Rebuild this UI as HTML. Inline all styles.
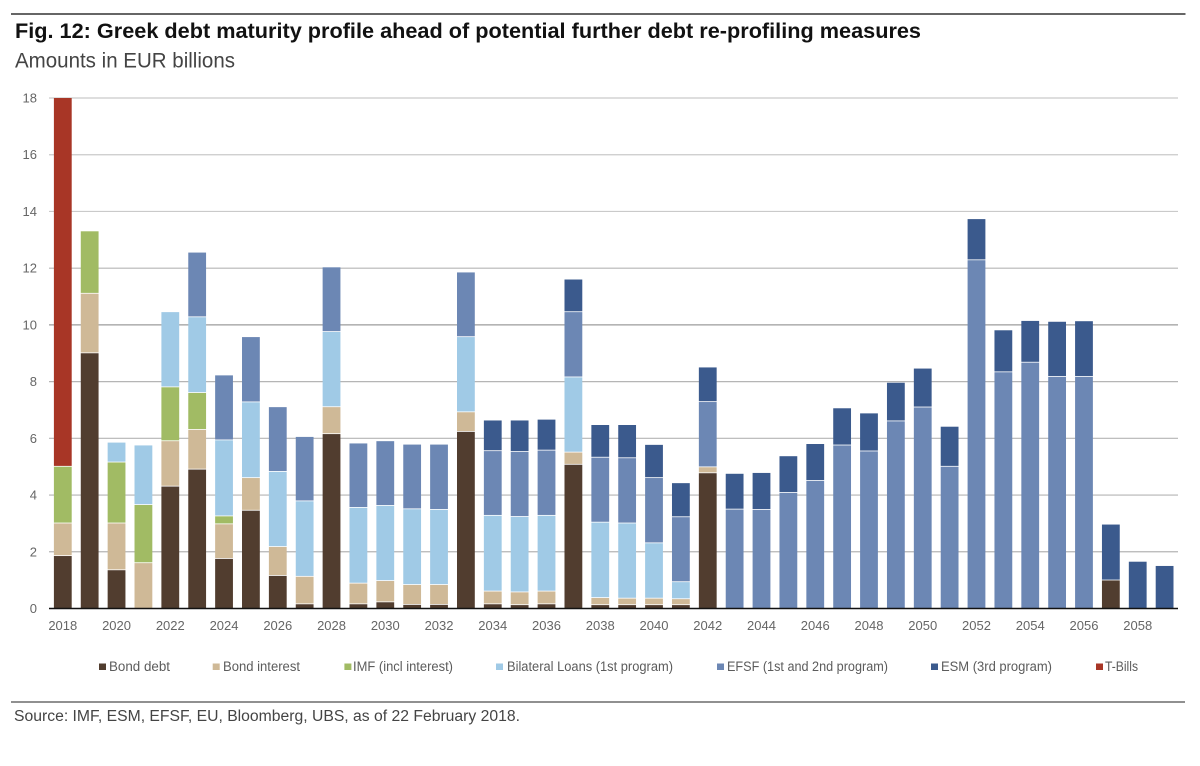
<!DOCTYPE html>
<html lang="en">
<head>
<meta charset="utf-8">
<title>Greek debt maturity profile</title>
<style>
html,body{margin:0;padding:0;background:#fff;width:1200px;height:766px;overflow:hidden}
svg{display:block;font-family:"Liberation Sans",sans-serif}
</style>
</head>
<body>
<svg id="chart" xmlns="http://www.w3.org/2000/svg" width="1200" height="766" viewBox="0 0 1200 766">
  <rect x="11" y="13" width="1174.5" height="2" fill="#666"/>
  <text x="15" y="38" font-size="21.5" font-weight="700" fill="#111" textLength="906" lengthAdjust="spacingAndGlyphs">Fig. 12: Greek debt maturity profile ahead of potential further debt re-profiling measures</text>
  <text x="15" y="67.5" font-size="21" fill="#444" textLength="220" lengthAdjust="spacingAndGlyphs">Amounts in EUR billions</text>
  <g id="grid"></g>
  <g id="bars"></g>
  <line x1="49" x2="1178" y1="608.5" y2="608.5" stroke="#111" stroke-width="1.5"/>
  <g id="yticks"></g>
  <g id="xticks"></g>
  <g font-size="13.5" fill="#5c5c5c">
    <g><rect x="99" y="663.5" width="7" height="6.5" fill="#513d2f"/><text x="109" y="671" textLength="61" lengthAdjust="spacingAndGlyphs">Bond debt</text></g>
    <g><rect x="212.7" y="663.5" width="7" height="6.5" fill="#cfb997"/><text x="223" y="671" textLength="77" lengthAdjust="spacingAndGlyphs">Bond interest</text></g>
    <g><rect x="344.4" y="663.5" width="7" height="6.5" fill="#a1bb64"/><text x="353" y="671" textLength="100" lengthAdjust="spacingAndGlyphs">IMF (incl interest)</text></g>
    <g><rect x="496" y="663.5" width="7" height="6.5" fill="#a0cae6"/><text x="507" y="671" textLength="166" lengthAdjust="spacingAndGlyphs">Bilateral Loans (1st program)</text></g>
    <g><rect x="717" y="663.5" width="7" height="6.5" fill="#6c87b4"/><text x="727" y="671" textLength="161" lengthAdjust="spacingAndGlyphs">EFSF (1st and 2nd program)</text></g>
    <g><rect x="931" y="663.5" width="7" height="6.5" fill="#3b5a8d"/><text x="941" y="671" textLength="111" lengthAdjust="spacingAndGlyphs">ESM (3rd program)</text></g>
    <g><rect x="1096" y="663.5" width="7" height="6.5" fill="#a83626"/><text x="1105" y="671" textLength="33" lengthAdjust="spacingAndGlyphs">T-Bills</text></g>
  </g>
  <rect x="11" y="701.5" width="1174" height="1" fill="#222"/>
  <text x="14" y="721" font-size="15.5" fill="#444" textLength="506" lengthAdjust="spacingAndGlyphs">Source: IMF, ESM, EFSF, EU, Bloomberg, UBS,  as of 22 February 2018.</text>
</svg>
<script>
const years = [2018,2019,2020,2021,2022,2023,2024,2025,2026,2027,2028,2029,2030,2031,2032,2033,2034,2035,2036,2037,2038,2039,2040,2041,2042,2043,2044,2045,2046,2047,2048,2049,2050,2051,2052,2053,2054,2055,2056,2057,2058,2059];
const bondDebt = [1.85,9,1.35,0,4.3,4.9,1.75,3.45,1.15,0.15,6.15,0.15,0.22,0.13,0.13,6.23,0.15,0.12,0.15,5.07,0.12,0.12,0.12,0.12,4.77,0,0,0,0,0,0,0,0,0,0,0,0,0,0,0.99,0,0];
const bondInterest = [1.15,2.1,1.65,1.6,1.6,1.4,1.22,1.15,1.02,0.97,0.95,0.73,0.75,0.7,0.7,0.69,0.45,0.45,0.45,0.43,0.25,0.23,0.23,0.21,0.21,0,0,0,0,0,0,0,0,0,0,0,0,0,0,0,0,0];
const imf = [2,2.2,2.15,2.05,1.9,1.3,0.28,0,0,0,0,0,0,0,0,0,0,0,0,0,0,0,0,0,0,0,0,0,0,0,0,0,0,0,0,0,0,0,0,0,0,0];
const bilateral = [0,0,0.7,2.1,2.65,2.67,2.68,2.67,2.65,2.66,2.65,2.67,2.65,2.67,2.65,2.65,2.67,2.66,2.67,2.65,2.66,2.65,1.95,0.6,0,0,0,0,0,0,0,0,0,0,0,0,0,0,0,0,0,0];
const efsf = [0,0,0,0,0,2.28,2.29,2.3,2.28,2.27,2.28,2.27,2.28,2.28,2.3,2.28,2.28,2.29,2.3,2.3,2.29,2.3,2.3,2.29,2.3,3.49,3.48,4.08,4.5,5.75,5.54,6.6,7.09,5,12.28,8.33,8.67,8.17,8.17,0,0,0];
const esm = [0,0,0,0,0,0,0,0,0,0,0,0,0,0,0,0,1.08,1.11,1.09,1.15,1.15,1.17,1.17,1.2,1.22,1.26,1.3,1.29,1.3,1.31,1.34,1.36,1.37,1.41,1.45,1.48,1.47,1.94,1.96,1.97,1.65,1.5];
const tBills = [13,0,0,0,0,0,0,0,0,0,0,0,0,0,0,0,0,0,0,0,0,0,0,0,0,0,0,0,0,0,0,0,0,0,0,0,0,0,0,0,0,0];
const yTicks = [0,2,4,6,8,10,12,14,16,18];

const NS = 'http://www.w3.org/2000/svg';
const seriesList = [
  ['bond-debt', bondDebt, '#513d2f'],
  ['bond-interest', bondInterest, '#cfb997'],
  ['imf', imf, '#a1bb64'],
  ['bilateral', bilateral, '#a0cae6'],
  ['efsf', efsf, '#6c87b4'],
  ['esm', esm, '#3b5a8d'],
  ['t-bills', tBills, '#a83626']
];
function yScale(v){ return 608.5 - v * (510.5 / 18); }
function xScale(i){ return 62.8 + i * (1101.8 / 41); }
const barWidth = 17.8;

const grid = document.getElementById('grid');
const yG = document.getElementById('yticks');
yTicks.forEach(function(t){
  if (t > 0) {
    const l = document.createElementNS(NS, 'line');
    
    
    l.setAttribute('x1', 49);
    l.setAttribute('x2', 1178);
    l.setAttribute('y1', yScale(t));
    l.setAttribute('y2', yScale(t));
    l.setAttribute('stroke', t >= 14 ? '#cacaca' : (t === 10 ? '#9c9c9c' : '#b5b5b5'));
    l.setAttribute('stroke-width', '1.2');
    grid.appendChild(l);
  }
  const s = document.createElementNS(NS, 'text');
  
  
  s.setAttribute('x', 37);
  s.setAttribute('y', yScale(t) + 4.5);
  s.setAttribute('text-anchor', 'end');
  s.setAttribute('font-size', '13');
  s.setAttribute('fill', '#666');
  s.textContent = t;
  yG.appendChild(s);
});

const barsG = document.getElementById('bars');
const xG = document.getElementById('xticks');
years.forEach(function(yr, i){
  let base = 0;
  seriesList.forEach(function(sr){
    const v = sr[1][i];
    if (!v) return;
    const top = yScale(base + v);
    const bottom = yScale(base);
    const r = document.createElementNS(NS, 'rect');
    
    
    r.setAttribute('x', xScale(i) - barWidth / 2);
    r.setAttribute('y', top);
    r.setAttribute('width', barWidth);
    r.setAttribute('height', Math.max(0.5, bottom - top - (base > 0 ? 0.8 : 0)));
    r.setAttribute('fill', sr[2]);
    barsG.appendChild(r);
    base += v;
  });
  if (i % 2 === 0) {
    const s = document.createElementNS(NS, 'text');
    
    
    s.setAttribute('x', xScale(i));
    s.setAttribute('y', 630);
    s.setAttribute('text-anchor', 'middle');
    s.setAttribute('font-size', '13');
    s.setAttribute('fill', '#666');
    s.textContent = yr;
    xG.appendChild(s);
  }
});
</script>
</body>
</html>
